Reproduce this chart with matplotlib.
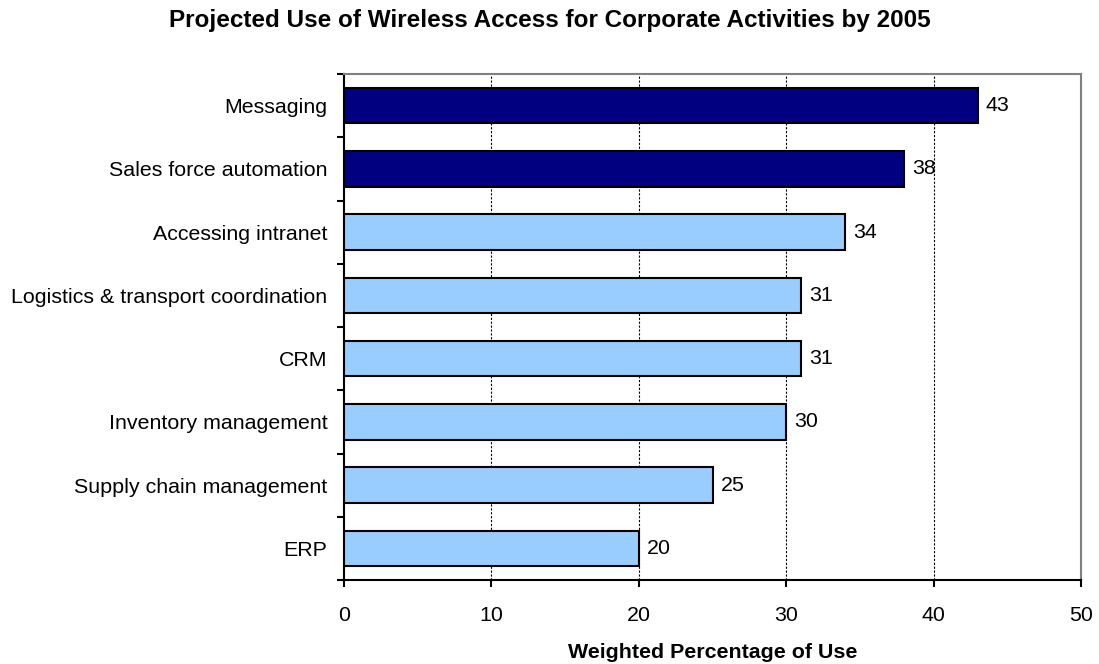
import matplotlib
matplotlib.use("Agg")
import matplotlib.pyplot as plt
import numpy as np

plt.rcParams['font.family'] = ['Liberation Sans', 'DejaVu Sans']

categories = ["Messaging", "Sales force automation", "Accessing intranet",
              "Logistics & transport coordination", "CRM", "Inventory management",
              "Supply chain management", "ERP"]
values = [43, 38, 34, 31, 31, 30, 25, 20]
colors = ["#000080", "#000080", "#99CCFF", "#99CCFF", "#99CCFF", "#99CCFF", "#99CCFF", "#99CCFF"]
xticks = [0, 10, 20, 30, 40, 50]

FS = 15.4

fig = plt.figure(figsize=(10.99, 6.64), dpi=100)
ax = fig.add_axes([344/1099, 1-580/664, (1081-344)/1099, (580-74)/664])

n = len(categories)
ypos = np.arange(n)[::-1]
ax.barh(ypos, values, height=0.56, color=colors, edgecolor="black", linewidth=1.5, zorder=3)
for y, v in zip(ypos, values):
    ax.text(v + 0.55, y, str(v), va="center", ha="left", fontsize=FS, zorder=4)

ax.set_xlim(0, 50)
ax.set_ylim(-0.5, n - 0.5)
ax.set_xticks(xticks)
ax.set_xticklabels([str(t) for t in xticks], fontsize=FS)
ax.set_yticks(ypos)
ax.set_yticklabels(categories, fontsize=FS)
ax.tick_params(axis='y', which='major', length=0, pad=12)
ax.set_yticks(np.arange(-0.5, n, 1.0), minor=True)
ax.tick_params(axis='y', which='minor', length=5, width=1.5, direction='out')
ax.tick_params(axis='x', length=5, width=1.5, direction='out', pad=14)

for x in xticks[1:-1]:
    ax.axvline(x, color="black", linestyle=(0, (2, 1.5)), linewidth=0.8, zorder=1)

ax.spines['left'].set_linewidth(1.5)
ax.spines['bottom'].set_linewidth(1.5)
ax.spines['top'].set_color('#808080')
ax.spines['right'].set_color('#808080')
ax.spines['top'].set_linewidth(1.5)
ax.spines['right'].set_linewidth(1.5)

ax.set_xlabel("Weighted Percentage of Use", fontsize=FS, fontweight='bold', labelpad=13)
fig.text(0.5, 1-20/664, "Projected Use of Wireless Access for Corporate Activities by 2005",
         ha="center", va="center", fontsize=17.5, fontweight='bold')

fig.savefig("out.png", dpi=100)
